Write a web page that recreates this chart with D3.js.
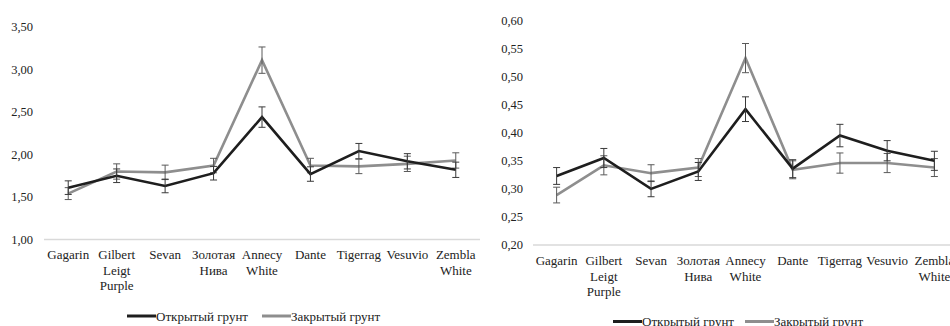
<!DOCTYPE html>
<html>
<head>
<meta charset="utf-8">
<script src="https://cdn.jsdelivr.net/npm/d3@7"></script>
<style>
  body { margin: 0; background: #fff; }
  svg { display: block; }
</style>
</head>
<body>
<div id="chart"></div>
<script>
var categories = [
  ['Gagarin'],
  ['Gilbert', 'Leigt', 'Purple'],
  ['Sevan'],
  ['Золотая', 'Нива'],
  ['Annecy', 'White'],
  ['Dante'],
  ['Tigerrag'],
  ['Vesuvio'],
  ['Zembla', 'White']
];
var seriesNames = ['Открытый грунт', 'Закрытый грунт'];

// left panel
var leftOpen = [1.61, 1.75, 1.63, 1.78, 2.44, 1.77, 2.04, 1.92, 1.82];
var leftOpenErr = [0.08, 0.08, 0.08, 0.08, 0.12, 0.085, 0.09, 0.09, 0.09];
var leftClosed = [1.54, 1.80, 1.79, 1.87, 3.11, 1.87, 1.86, 1.89, 1.93];
var leftClosedErr = [0.07, 0.09, 0.085, 0.085, 0.155, 0.085, 0.085, 0.09, 0.09];
var leftTicks = [1.00, 1.50, 2.00, 2.50, 3.00, 3.50];

// right panel
var rightOpen = [0.323, 0.355, 0.300, 0.331, 0.442, 0.336, 0.395, 0.368, 0.350];
var rightOpenErr = [0.015, 0.017, 0.014, 0.016, 0.022, 0.016, 0.020, 0.018, 0.017];
var rightClosed = [0.289, 0.342, 0.328, 0.338, 0.533, 0.334, 0.346, 0.346, 0.338];
var rightClosedErr = [0.014, 0.017, 0.015, 0.016, 0.026, 0.016, 0.018, 0.017, 0.016];
var rightTicks = [0.20, 0.25, 0.30, 0.35, 0.40, 0.45, 0.50, 0.55, 0.60];

var width = 950;
var height = 326;
var colors = ['#1e1e1e', '#8e8e8e'];
var barColors = ['#3a3a3a', '#5a5a5a'];
var fmt = function (v) { return d3.format('.2f')(v).replace('.', ','); };

var svg = d3.select('#chart').append('svg')
  .attr('width', width)
  .attr('height', height)
  .style('font-family', 'serif');

function drawPanel(cfg) {
  var g = svg.append('g');

  var x = d3.scaleBand()
    .domain(d3.range(categories.length))
    .range([cfg.x0, cfg.x1]);
  var y = d3.scaleLinear()
    .domain([cfg.ticks[0], cfg.ticks[cfg.ticks.length - 1]])
    .range([cfg.yBottom, cfg.yTop]);
  var cx = function (i) { return x(i) + x.bandwidth() / 2; };

  // baseline
  g.append('line')
    .attr('x1', cfg.x0)
    .attr('x2', Math.min(cfg.x1, width))
    .attr('y1', y(cfg.ticks[0]))
    .attr('y2', y(cfg.ticks[0]))
    .style('stroke', '#d9d9d9')
    .style('stroke-width', 1.3);

  // y tick labels
  g.selectAll('text.ytick')
    .data(cfg.ticks)
    .enter()
    .append('text')
    .attr('class', 'ytick')
    .attr('x', cfg.labelX)
    .attr('y', function (d) { return y(d); })
    .attr('dy', '0.35em')
    .attr('text-anchor', 'end')
    .style('font-family', 'serif')
    .style('font-size', '12.5px')
    .style('fill', '#222')
    .text(fmt);

  // category labels
  var cat = g.selectAll('text.cat')
    .data(categories)
    .enter()
    .append('text')
    .attr('class', 'cat')
    .attr('text-anchor', 'middle')
    .attr('x', function (d, i) { return cx(i); })
    .attr('y', cfg.catY)
    .style('font-family', 'serif')
    .style('font-size', '13px')
    .style('fill', '#222');
  cat.selectAll('tspan')
    .data(function (d, i) { return d.map(function (t) { return {t: t, i: i}; }); })
    .enter()
    .append('tspan')
    .attr('x', function (d) { return cx(d.i); })
    .attr('dy', function (d, k) { return k === 0 ? 0 : 15.5; })
    .text(function (d) { return d.t; });

  var line = d3.line()
    .x(function (d, i) { return cx(i); })
    .y(function (d) { return y(d); });

  // draw closed (gray) first so the dark line is on top
  [1, 0].forEach(function (s) {
    var vals = cfg.series[s];
    var errs = cfg.errors[s];

    g.append('path')
      .datum(vals)
      .attr('d', line)
      .style('fill', 'none')
      .style('stroke', colors[s])
      .style('stroke-width', 2.6)
      .style('stroke-linejoin', 'miter');

    var eb = g.selectAll('g.err' + s)
      .data(vals)
      .enter()
      .append('g')
      .attr('class', 'err' + s)
      .style('stroke', barColors[s])
      .style('stroke-width', 1);
    eb.append('line')
      .attr('x1', function (d, i) { return cx(i); })
      .attr('x2', function (d, i) { return cx(i); })
      .attr('y1', function (d, i) { return y(d + errs[i]); })
      .attr('y2', function (d, i) { return y(d - errs[i]); });
    eb.append('line')
      .attr('x1', function (d, i) { return cx(i) - 3.5; })
      .attr('x2', function (d, i) { return cx(i) + 3.5; })
      .attr('y1', function (d, i) { return y(d + errs[i]); })
      .attr('y2', function (d, i) { return y(d + errs[i]); });
    eb.append('line')
      .attr('x1', function (d, i) { return cx(i) - 3.5; })
      .attr('x2', function (d, i) { return cx(i) + 3.5; })
      .attr('y1', function (d, i) { return y(d - errs[i]); })
      .attr('y2', function (d, i) { return y(d - errs[i]); });
  });

  // legend
  var leg = g.selectAll('g.legend')
    .data(seriesNames)
    .enter()
    .append('g')
    .attr('class', 'legend')
    .attr('transform', function (d, i) {
      return 'translate(' + cfg.legendX[i] + ',' + cfg.legendY + ')';
    });
  leg.append('line')
    .attr('x1', 0)
    .attr('x2', 29)
    .style('stroke', function (d, i) { return colors[i]; })
    .style('stroke-width', 3);
  leg.append('text')
    .attr('x', 29)
    .attr('dy', '0.35em')
    .style('font-family', 'serif')
    .style('font-size', '13px')
    .style('fill', '#222')
    .text(function (d) { return d; });
}

drawPanel({
  x0: 44, x1: 480,
  yTop: 27, yBottom: 239.5,
  labelX: 33,
  catY: 259,
  ticks: leftTicks,
  series: [leftOpen, leftClosed],
  errors: [leftOpenErr, leftClosedErr],
  legendX: [127, 262],
  legendY: 316
});

drawPanel({
  x0: 533, x1: 958,
  yTop: 20.5, yBottom: 245,
  labelX: 523,
  catY: 265,
  ticks: rightTicks,
  series: [rightOpen, rightClosed],
  errors: [rightOpenErr, rightClosedErr],
  legendX: [613, 745],
  legendY: 321.5
});
</script>
</body>
</html>
